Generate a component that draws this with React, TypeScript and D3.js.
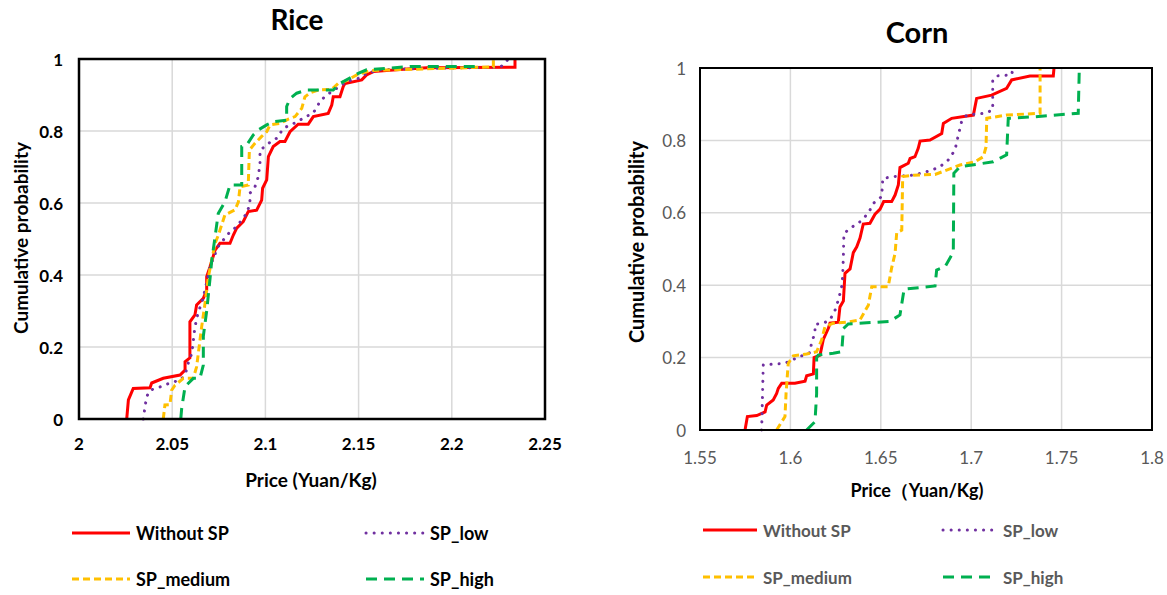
import React from "react";
import * as d3 from "d3";

type Pt = [number, number];

// ---------- Rice data: [price, cumulative probability] ----------
const riceWithoutSP: Pt[] = [[2.0256,0],[2.0265,0.053],[2.0291,0.085],[2.0381,0.087],[2.0390,0.10],[2.0452,0.113],[2.0542,0.122],[2.0569,0.136],[2.0569,0.159],[2.0595,0.17],[2.0595,0.27],[2.0622,0.289],[2.0631,0.317],[2.0667,0.335],[2.0685,0.358],[2.0685,0.395],[2.0703,0.423],[2.0730,0.469],[2.0756,0.488],[2.0810,0.488],[2.0828,0.511],[2.0846,0.53],[2.0881,0.548],[2.0908,0.576],[2.0953,0.58],[2.0980,0.608],[2.0985,0.641],[2.1007,0.664],[2.1016,0.729],[2.1042,0.757],[2.1078,0.771],[2.1105,0.771],[2.1132,0.798],[2.1176,0.819],[2.1230,0.819],[2.1257,0.84],[2.1337,0.849],[2.1356,0.872],[2.1364,0.895],[2.1400,0.895],[2.1418,0.924],[2.1427,0.932],[2.1517,0.942],[2.1543,0.956],[2.1579,0.965],[2.1722,0.971],[2.1865,0.976],[2.2339,0.977],[2.2339,1.0]];
const riceSPLow: Pt[] = [[2.0345,0],[2.0354,0.034],[2.0363,0.062],[2.0381,0.08],[2.0425,0.087],[2.0488,0.1],[2.0542,0.108],[2.0569,0.122],[2.0586,0.155],[2.0605,0.182],[2.0613,0.215],[2.0622,0.256],[2.0640,0.298],[2.0658,0.321],[2.0676,0.358],[2.0688,0.386],[2.0703,0.423],[2.0724,0.451],[2.0747,0.479],[2.0774,0.497],[2.0810,0.52],[2.0846,0.534],[2.0873,0.553],[2.0900,0.571],[2.0917,0.599],[2.0917,0.627],[2.0944,0.645],[2.0962,0.673],[2.0971,0.71],[2.0971,0.747],[2.0998,0.757],[2.1025,0.769],[2.1061,0.78],[2.1096,0.807],[2.1132,0.817],[2.1176,0.826],[2.1212,0.84],[2.1248,0.846],[2.1275,0.863],[2.1293,0.884],[2.1320,0.895],[2.1356,0.91],[2.1400,0.924],[2.1436,0.938],[2.1507,0.947],[2.1543,0.96],[2.1615,0.97],[2.1865,0.974],[2.2259,0.977],[2.2285,0.988],[2.2303,1.0]];
const riceSPMedium: Pt[] = [[2.0452,0],[2.0461,0.039],[2.0488,0.04],[2.0497,0.08],[2.0515,0.094],[2.0560,0.113],[2.0613,0.113],[2.0631,0.145],[2.0649,0.219],[2.0658,0.256],[2.0676,0.321],[2.0685,0.358],[2.0694,0.395],[2.0712,0.441],[2.0730,0.488],[2.0747,0.51],[2.0783,0.567],[2.0837,0.581],[2.0855,0.603],[2.0864,0.645],[2.0908,0.65],[2.0914,0.747],[2.0944,0.766],[2.0980,0.785],[2.1007,0.798],[2.1025,0.817],[2.1078,0.821],[2.1123,0.833],[2.1159,0.84],[2.1195,0.863],[2.1212,0.895],[2.1239,0.906],[2.1284,0.914],[2.1356,0.916],[2.1391,0.932],[2.1436,0.94],[2.1490,0.956],[2.1561,0.968],[2.1686,0.97],[2.2223,0.978],[2.2223,1.0]];
const riceSPHigh: Pt[] = [[2.0546,0],[2.0551,0.03],[2.0569,0.09],[2.0613,0.113],[2.0649,0.113],[2.0667,0.15],[2.0667,0.23],[2.0685,0.3],[2.0703,0.39],[2.0712,0.44],[2.0730,0.506],[2.0747,0.571],[2.0783,0.603],[2.0810,0.65],[2.0873,0.65],[2.0873,0.757],[2.0900,0.761],[2.0935,0.789],[2.0962,0.803],[2.1007,0.817],[2.1042,0.826],[2.1114,0.83],[2.1114,0.868],[2.1132,0.89],[2.1168,0.905],[2.1222,0.914],[2.1364,0.914],[2.1400,0.932],[2.1498,0.96],[2.1543,0.97],[2.1776,0.979],[2.2151,0.979]];

// ---------- Corn data ----------
const cornWithoutSP: Pt[] = [[1.5749,0],[1.5762,0.037],[1.5814,0.04],[1.5860,0.05],[1.5869,0.069],[1.5905,0.083],[1.5924,0.101],[1.5933,0.115],[1.5952,0.129],[1.6025,0.129],[1.6081,0.135],[1.6090,0.15],[1.6127,0.155],[1.6131,0.2],[1.6164,0.207],[1.6182,0.25],[1.6210,0.281],[1.6219,0.295],[1.6265,0.298],[1.6274,0.34],[1.6293,0.356],[1.6302,0.433],[1.6330,0.445],[1.6348,0.49],[1.6367,0.506],[1.6385,0.53],[1.6403,0.569],[1.6440,0.571],[1.6468,0.596],[1.6496,0.61],[1.6516,0.631],[1.6560,0.631],[1.6579,0.649],[1.6597,0.677],[1.6606,0.725],[1.6652,0.737],[1.6662,0.75],[1.6689,0.755],[1.6707,0.778],[1.6717,0.798],[1.6772,0.801],[1.6837,0.819],[1.6846,0.847],[1.6892,0.861],[1.7012,0.87],[1.7030,0.916],[1.7113,0.925],[1.7196,0.944],[1.7224,0.967],[1.7325,0.978],[1.7454,0.978],[1.7458,1.0]];
const cornSPLow: Pt[] = [[1.5841,0],[1.5850,0.18],[1.5970,0.184],[1.6007,0.193],[1.6053,0.203],[1.6108,0.214],[1.6118,0.244],[1.6136,0.267],[1.6136,0.292],[1.6182,0.295],[1.6219,0.304],[1.6247,0.331],[1.6265,0.359],[1.6284,0.396],[1.6289,0.424],[1.6293,0.479],[1.6296,0.543],[1.6339,0.56],[1.6385,0.575],[1.6431,0.599],[1.6459,0.626],[1.6505,0.645],[1.6511,0.695],[1.6569,0.7],[1.6680,0.704],[1.6772,0.716],[1.6827,0.727],[1.6873,0.746],[1.6910,0.773],[1.6929,0.815],[1.6947,0.852],[1.6975,0.87],[1.7076,0.875],[1.7119,0.884],[1.7119,0.967],[1.7141,0.978],[1.7224,0.981],[1.7231,1.0]];
const cornSPMedium: Pt[] = [[1.5924,0],[1.5970,0.037],[1.5976,0.101],[1.5988,0.184],[1.6016,0.205],[1.6090,0.21],[1.6145,0.216],[1.6173,0.249],[1.6191,0.285],[1.6237,0.295],[1.6311,0.298],[1.6385,0.304],[1.6431,0.345],[1.6450,0.396],[1.6541,0.396],[1.6560,0.448],[1.6579,0.488],[1.6588,0.545],[1.6616,0.552],[1.6621,0.7],[1.6680,0.704],[1.6800,0.706],[1.6864,0.718],[1.6938,0.732],[1.7021,0.741],[1.7067,0.755],[1.7082,0.782],[1.7086,0.861],[1.7196,0.87],[1.7381,0.875],[1.7381,1.0]];
const cornSPHigh: Pt[] = [[1.6090,0],[1.6136,0.023],[1.6145,0.1],[1.6145,0.2],[1.6154,0.207],[1.6237,0.212],[1.6284,0.216],[1.6293,0.28],[1.6320,0.293],[1.6422,0.296],[1.6551,0.3],[1.6606,0.318],[1.6629,0.389],[1.6800,0.398],[1.6809,0.442],[1.6855,0.451],[1.6892,0.483],[1.6901,0.49],[1.6904,0.709],[1.6938,0.727],[1.7122,0.741],[1.7196,0.76],[1.7205,0.861],[1.7343,0.865],[1.7592,0.875],[1.7598,1.0]];

// ---------- Axis ticks & labels ----------
const riceXTicks = [2, 2.05, 2.1, 2.15, 2.2, 2.25];
const cornXTicks = [1.55, 1.6, 1.65, 1.7, 1.75, 1.8];
const yTicks = [0, 0.2, 0.4, 0.6, 0.8, 1];
const seriesNames = ["Without SP", "SP_low", "SP_medium", "SP_high"];

const seriesStyles = [
  { color: "#FF0000", dash: "", cap: "butt" },
  { color: "#7030A0", dash: "0.1 8", cap: "round" },
  { color: "#FFC000", dash: "7 4", cap: "butt" },
  { color: "#00B050", dash: "11 7", cap: "butt" },
];

const FONT = "Lato, 'Liberation Sans', sans-serif";

interface ChartProps {
  title: string;
  series: Pt[][];
  xTicks: number[];
  xDomain: [number, number];
  left: number; right: number; top: number; bottom: number;
  titleX: number; titleY: number; titleSize: number;
  tickColor: string; tickWeight: number; tickSize: number;
  xTickY: number; yTickX: number;
  xLabel: string; xLabelY: number; xLabelX: number; xLabelSize: number;
  yLabelX: number; yLabelY: number; yLabelSize: number;
  legendX: number[]; legendY: number[]; legendLen: number; legendColor: string; legendSize: number;
  frameW: number; lineW: number;
}

function Chart(p: ChartProps) {
  const x = d3.scaleLinear().domain(p.xDomain).range([p.left, p.right]);
  const y = d3.scaleLinear().domain([0, 1]).range([p.bottom, p.top]);
  const line = d3.line<Pt>().x(d => x(d[0])).y(d => y(d[1]));
  const fmt = (v: number) => String(+v.toFixed(2));
  return (
    <g>
      <text x={p.titleX} y={p.titleY} textAnchor="middle" fontFamily={FONT} fontWeight={700} fontSize={p.titleSize} fill="#000">{p.title}</text>
      {p.xTicks.map(t => (
        <line key={"gx" + t} x1={x(t)} x2={x(t)} y1={p.top} y2={p.bottom} stroke="#D9D9D9" strokeWidth={1.5} />
      ))}
      {yTicks.map(t => (
        <line key={"gy" + t} x1={p.left} x2={p.right} y1={y(t)} y2={y(t)} stroke="#D9D9D9" strokeWidth={1.5} />
      ))}
      {p.series.map((s, i) => (
        <path key={"s" + i} d={line(s) || ""} fill="none" stroke={seriesStyles[i].color}
          strokeWidth={p.lineW} strokeDasharray={seriesStyles[i].dash || undefined}
          strokeLinecap={seriesStyles[i].cap as any} strokeLinejoin="miter" />
      ))}
      <rect x={p.left} y={p.top} width={p.right - p.left} height={p.bottom - p.top} fill="none" stroke="#000" strokeWidth={p.frameW} />
      {p.xTicks.map(t => (
        <text key={"tx" + t} x={x(t)} y={p.xTickY} textAnchor="middle" dominantBaseline="central"
          fontFamily={FONT} fontWeight={p.tickWeight} fontSize={p.tickSize} fill={p.tickColor}>{fmt(t)}</text>
      ))}
      {yTicks.map(t => (
        <text key={"ty" + t} x={p.yTickX} y={y(t)} textAnchor="end" dominantBaseline="central"
          fontFamily={FONT} fontWeight={p.tickWeight} fontSize={p.tickSize} fill={p.tickColor}>{fmt(t)}</text>
      ))}
      <text x={p.xLabelX} y={p.xLabelY} textAnchor="middle" dominantBaseline="central" fontFamily={FONT} fontWeight={700} fontSize={p.xLabelSize} fill="#000">{p.xLabel}</text>
      <text transform={`translate(${p.yLabelX},${p.yLabelY}) rotate(-90)`} textAnchor="middle" dominantBaseline="central" fontFamily={FONT} fontWeight={700} fontSize={p.yLabelSize} fill="#000">Cumulative probability</text>
      {seriesNames.map((n, i) => {
        const lx = p.legendX[i % 2];
        const ly = p.legendY[Math.floor(i / 2)];
        return (
          <g key={"l" + i}>
            <line x1={lx} x2={lx + p.legendLen} y1={ly} y2={ly} stroke={seriesStyles[i].color} strokeWidth={3}
              strokeDasharray={seriesStyles[i].dash || undefined} strokeLinecap={seriesStyles[i].cap as any} />
            <text x={lx + p.legendLen + 6} y={ly} dominantBaseline="central" fontFamily={FONT} fontWeight={700} fontSize={p.legendSize} fill={p.legendColor}>{n}</text>
          </g>
        );
      })}
    </g>
  );
}

export default function App() {
  return (
    <svg width={1167} height={595} style={{ position: "absolute", left: 0, top: 0, background: "#fff" }}>
      <rect x={0} y={0} width={1167} height={595} fill="#fff" />
      <Chart title="Rice" series={[riceWithoutSP, riceSPLow, riceSPMedium, riceSPHigh]}
        xTicks={riceXTicks} xDomain={[2, 2.25]} left={79} right={545} top={59} bottom={419}
        titleX={297} titleY={30} titleSize={28} tickColor="#000" tickWeight={700} tickSize={17}
        xTickY={443} yTickX={63} xLabel="Price (Yuan/Kg)" xLabelX={311} xLabelY={479} xLabelSize={19}
        yLabelX={20} yLabelY={238} yLabelSize={19}
        legendX={[72, 366]} legendY={[533, 579]} legendLen={58} legendColor="#000" legendSize={18}
        frameW={2.5} lineW={3} />
      <Chart title="Corn" series={[cornWithoutSP, cornSPLow, cornSPMedium, cornSPHigh]}
        xTicks={cornXTicks} xDomain={[1.55, 1.8]} left={700} right={1152} top={68} bottom={430}
        titleX={917} titleY={43} titleSize={29} tickColor="#595959" tickWeight={400} tickSize={17}
        xTickY={457} yTickX={686} xLabel="Price（Yuan/Kg)" xLabelX={917} xLabelY={490} xLabelSize={18}
        yLabelX={636} yLabelY={242} yLabelSize={20}
        legendX={[703, 943]} legendY={[530, 577]} legendLen={54} legendColor="#595959" legendSize={17}
        frameW={2} lineW={3} />
    </svg>
  );
}
